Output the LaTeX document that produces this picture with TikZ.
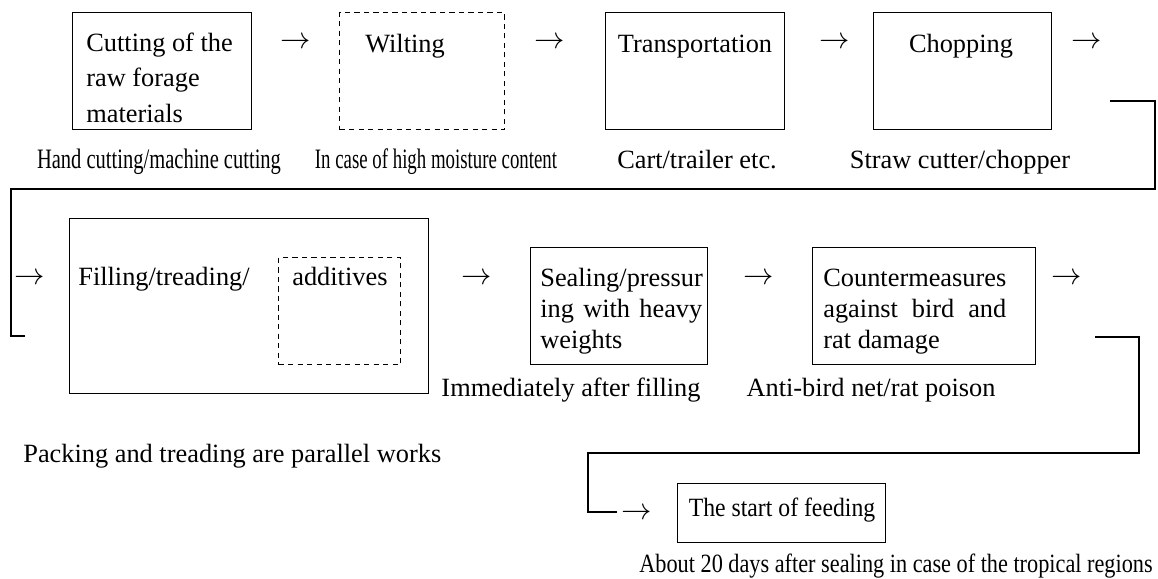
\documentclass[tikz,border=0pt]{standalone}
\usepackage{fontspec}
\setmainfont{Liberation Serif}
\usepackage{graphicx}
\usetikzlibrary{positioning}
% squeezed caption text
\newcommand{\squeezed}[2]{\scalebox{#1}[1]{#2}}
\tikzset{
	every node/.style={
		font=\fontsize{15}{20}\selectfont,
		inner sep=0pt
	},
	stage/.style={
		shape=rectangle,
		draw,
		line width=0.8pt,
		minimum width=3.58cm,
		minimum height=2.34cm,
		anchor=north west
	},
	optional/.style={
		stage,
		dash pattern=on 3pt off 2.4pt
	},
	stagetext/.style={
		anchor=base west,
		align=left
	},
	tighttext/.style={
		stagetext,
		font=\fontsize{15}{17.6}\selectfont
	},
	caption/.style={anchor=base},
	flow/.style={anchor=base, font=\fontsize{16}{20}\selectfont},
	link/.style={line width=1pt}
}

\begin{document}
\begin{tikzpicture}[x=0.02cm,y=-0.02cm]
	\useasboundingbox (0,0) rectangle (1158,578);

	% first row
	\node[stage]                        (cut)   at (72,12)  {};
	\node[optional, minimum width=3.3cm] (wilt) at (339,12) {};
	\node[stage]                        (trans) at (605,12) {};
	\node[stage, minimum width=3.56cm]  (chop)  at (873,12) {};

	% base of a multi-line node is its last line
	\node[stagetext] (cut-t)   at (86,122) {Cutting of the\\raw forage\\materials};
	\node[caption]   (wilt-t)  at (405,52) {Wilting};
	\node[caption]   (trans-t) at (695,52) {Transportation};
	\node[caption]   (chop-t)  at (961,52) {Chopping};

	\node[flow] (a1) at (296,48.6)  {$\rightarrow$};
	\node[flow] (a2) at (550,48.6)  {$\rightarrow$};
	\node[flow] (a3) at (835,48.6)  {$\rightarrow$};
	\node[flow] (a4) at (1087,48.6) {$\rightarrow$};

	\node[caption, font=\fontsize{16}{20}\selectfont] (cut-c)  at (159,168) {\squeezed{0.73}{Hand cutting/machine cutting}};
	\node[caption, font=\fontsize{16}{20}\selectfont] (wilt-c) at (436,168) {\squeezed{0.67}{In case of high moisture content}};
	\node[caption] (trans-c) at (697,168) {Cart/trailer etc.};
	\node[caption] (chop-c)  at (960,168) {Straw cutter/chopper};

	% wrap to second row
	\coordinate (wrapA-in)  at (1110,101);
	\coordinate (wrapA-out) at (25,336);
	\draw[link] (wrapA-in) -| ++(45,88) -| ++(-1144,147) -- (wrapA-out);

	% second row
	\node[stage, minimum width=7.18cm, minimum height=3.5cm] (fill) at (69,218)  {};
	\node[optional, minimum width=2.44cm, minimum height=2.14cm] (add) at (278,257) {};
	\node[stage, minimum width=3.54cm] (seal)    at (530,247) {};
	\node[stage, minimum width=4.46cm] (counter) at (812,247) {};

	\node[stagetext] (fill-t) at (78,285)  {Filling/treading/};
	\node[stagetext] (add-t)  at (292,285) {additives};
	\node[tighttext] (seal-t) at (540,348.2)
		{Sealing/pressur\\\makebox[3.24cm][s]{ing with heavy}\\weights};
	\node[tighttext] (counter-t) at (823,348.2)
		{Countermeasures\\\makebox[3.66cm][s]{against bird and}\\rat damage};

	\node[flow] (b1) at (30,284.6)   {$\rightarrow$};
	\node[flow] (b2) at (477,284.6)  {$\rightarrow$};
	\node[flow] (b3) at (759,284.6)  {$\rightarrow$};
	\node[flow] (b4) at (1067,284.6) {$\rightarrow$};

	\node[caption] (seal-c)    at (571,396) {Immediately after filling};
	\node[caption] (counter-c) at (871,396) {Anti-bird net/rat poison};
	\node[anchor=base west] (fill-c) at (23,462) {Packing and treading are parallel works};

	% wrap to the last step
	\coordinate (wrapB-in)  at (1095,337);
	\coordinate (wrapB-out) at (617,512);
	\draw[link] (wrapB-in) -| ++(44,116) -| ++(-551,59) -- (wrapB-out);

	\node[flow] (c1) at (637,519.6) {$\rightarrow$};
	\node[stage, minimum width=4.16cm, minimum height=1.18cm] (feed) at (677,483) {};
	\node[caption] (feed-t) at (782,516) {\squeezed{0.9}{The start of feeding}};
	\node[caption] (feed-c) at (896,572) {\squeezed{0.845}{About 20 days after sealing in case of the tropical regions}};
\end{tikzpicture}
\end{document}
